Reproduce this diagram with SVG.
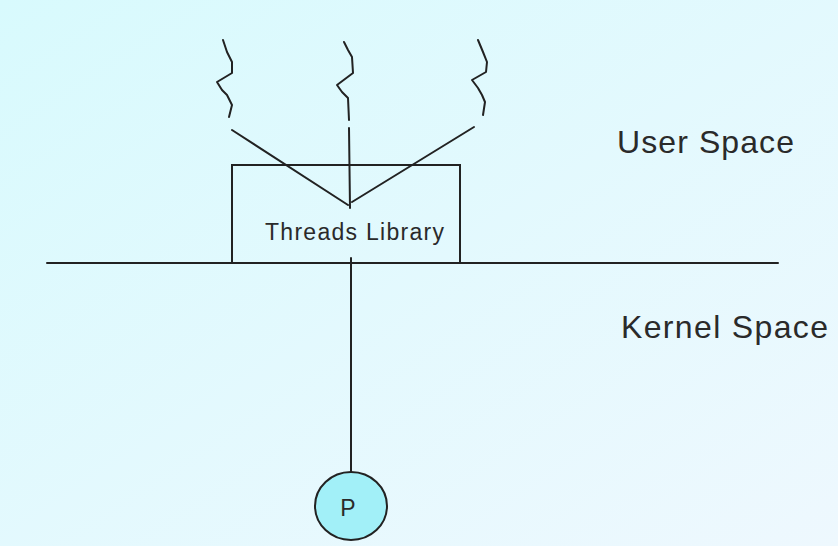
<svg xmlns="http://www.w3.org/2000/svg" width="838" height="546" viewBox="0 0 838 546">
<defs>
<linearGradient id="bg" x1="0" y1="0" x2="1" y2="1">
<stop offset="0" stop-color="#d8fafd"/>
<stop offset="1" stop-color="#eef8fe"/>
</linearGradient>
<style>
.ln{stroke:#222;stroke-width:2;fill:none;stroke-linejoin:round;stroke-linecap:round}
.tx{font-family:"Liberation Sans",Arial,sans-serif;fill:#2a2a2a}
</style>
</defs>
<rect width="838" height="546" fill="url(#bg)"/>
<g id="thread1"><polyline class="ln" points="223,40 227,52 232,62 232,73 217,82 222,90 227,95 232,105 229,117"/></g>
<g id="thread2"><polyline class="ln" points="344,42 348,50 352,57 353,73 337,85 342,92 348,98 349,120"/></g>
<g id="thread3"><polyline class="ln" points="478,40 483,52 487,62 486,72 472,80 478,88 482,95 485,102 483,115"/></g>
<g id="library">
<rect x="232" y="165" width="228" height="98" fill="none" stroke="#222" stroke-width="2"/>
<text class="tx" x="265" y="240" font-size="23" textLength="179">Threads Library</text>
</g>
<g id="boundary"><line class="ln" x1="47" y1="263" x2="778" y2="263"/></g>
<g id="connectors">
<line class="ln" x1="232" y1="130" x2="348" y2="205"/>
<line class="ln" x1="349" y1="128" x2="350" y2="208"/>
<line class="ln" x1="474" y1="127" x2="352" y2="202"/>
<line class="ln" x1="351" y1="258" x2="351" y2="473"/>
</g>
<g id="process">
<ellipse cx="351" cy="506" rx="36" ry="34" fill="#a2f0f8" stroke="#222" stroke-width="2"/>
<text class="tx" x="348" y="516" font-size="23" text-anchor="middle">P</text>
</g>
<g id="user-label"><text class="tx" x="617" y="153" font-size="32" textLength="177">User Space</text></g>
<g id="kernel-label"><text class="tx" x="621" y="338" font-size="32" textLength="207">Kernel Space</text></g>
</svg>
